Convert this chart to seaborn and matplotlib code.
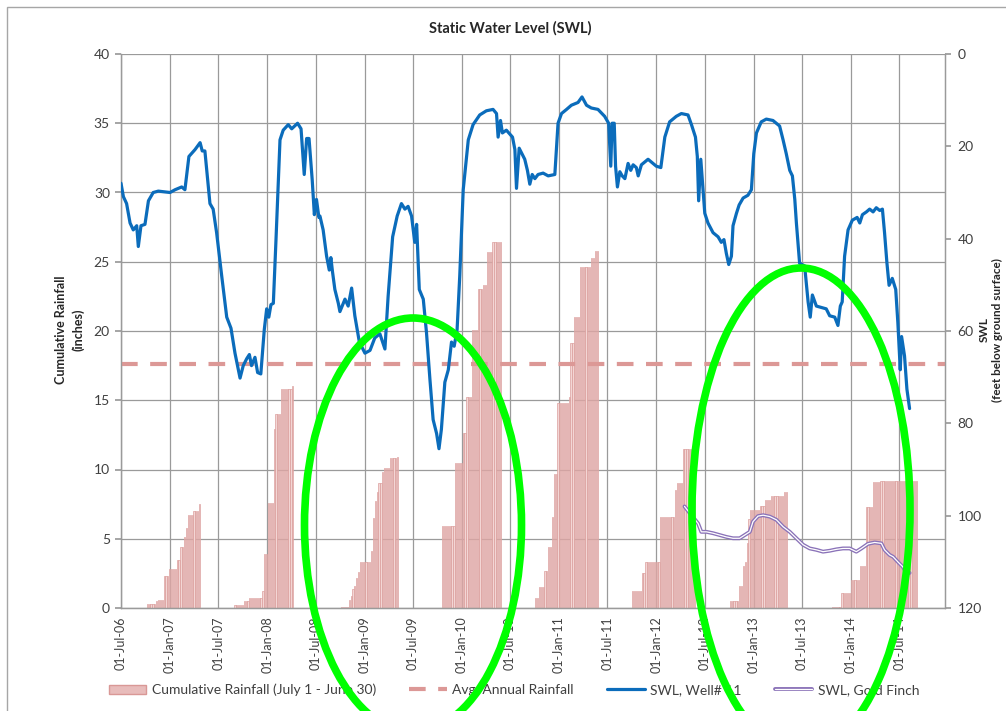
import matplotlib
matplotlib.use("Agg")
import matplotlib.pyplot as plt
import matplotlib.dates as mdates
import matplotlib.patheffects as pe
from matplotlib.patches import Ellipse, Rectangle, Patch
from matplotlib.lines import Line2D
import seaborn as sns
import pandas as pd
import numpy as np

# ---------------------------------------------------------------- data
# weekly cumulative rainfall (inches), one list per water year (Jul 1 - Jun 30)
rain_start = ['2006-10-08', '2007-09-02', '2008-10-07', '2009-10-21',
              '2010-10-05', '2011-10-05', '2012-10-05', '2013-10-24']
rain_vals = [
    [0.3, 0.3, 0.3, 0.3, 0.3, 0.5, 0.6, 0.6, 0.6, 2.3, 2.3, 2.3, 2.8, 2.8, 2.8, 2.8,
     3.5, 3.5, 4.4, 4.4, 5.1, 5.8, 6.7, 6.7, 6.7, 7.0, 7.0, 7.0, 7.5],
    [0.25, 0.25, 0.25, 0.25, 0.25, 0.5, 0.5, 0.5, 0.7, 0.7, 0.7, 0.7, 0.7, 0.7, 0.7,
     1.2, 3.9, 3.9, 7.6, 7.6, 7.6, 12.9, 14.0, 14.0, 14.0, 15.8, 15.8, 15.8, 15.8,
     15.8, 15.8, 16.0],
    [0.05, 0.05, 0.05, 0.05, 0.6, 0.85, 1.4, 1.6, 2.2, 2.6, 3.3, 3.3, 3.3, 3.3, 3.3,
     3.3, 4.1, 6.5, 7.7, 8.4, 9.0, 9.0, 9.8, 10.1, 10.1, 10.1, 10.8, 10.8, 10.8,
     10.8, 10.9],
    [5.9, 5.9, 5.9, 5.9, 5.9, 5.9, 5.9, 10.5, 10.5, 10.5, 10.5, 12.6, 12.6, 15.2,
     15.2, 15.2, 20.1, 20.1, 20.1, 23.0, 23.0, 23.0, 23.3, 23.3, 25.7, 25.7, 25.7,
     26.4, 26.4, 26.4, 26.4, 26.4],
    [0.7, 0.7, 1.5, 1.5, 1.5, 2.7, 2.7, 4.4, 4.4, 6.6, 9.7, 9.7, 14.8, 14.8, 14.8,
     14.8, 14.8, 14.8, 15.2, 19.1, 19.1, 21.0, 21.0, 21.0, 24.6, 24.6, 24.6, 24.6,
     24.6, 24.6, 25.3, 25.3, 25.8, 25.8],
    [1.2, 1.2, 1.2, 1.2, 1.2, 2.5, 2.5, 3.3, 3.3, 3.3, 3.3, 3.3, 3.3, 3.3, 3.3, 6.6,
     6.6, 6.6, 6.6, 6.6, 6.6, 6.6, 6.6, 8.5, 9.0, 9.0, 9.0, 11.5, 11.5, 11.5, 11.5,
     11.5, 11.5, 11.5],
    [0.5, 0.5, 0.5, 0.5, 0.5, 1.6, 1.6, 3.0, 3.3, 4.7, 6.4, 7.1, 7.1, 7.1, 7.1, 7.1,
     7.4, 7.4, 7.4, 7.8, 7.8, 7.8, 8.1, 8.1, 8.1, 8.1, 8.1, 8.1, 8.1, 8.4, 8.4],
    [0.1, 0.1, 0.1, 0.1, 0.1, 1.1, 1.1, 1.1, 1.1, 1.1, 2.0, 2.0, 2.0, 2.0, 2.0, 3.0,
     3.0, 3.0, 7.3, 7.3, 7.3, 7.3, 9.1, 9.1, 9.1, 9.1, 9.2, 9.2, 9.2, 9.2, 9.2, 9.2,
     9.2, 9.2, 9.2, 9.2, 9.2, 9.2, 9.2, 9.2, 9.2, 9.2, 9.2, 9.2, 9.2, 9.2],
]
avg_annual_rain = 17.6

# SWL, Well# 11 (feet below ground surface)
well_dates = [
    '2006-07-01', '2006-07-10', '2006-07-22', '2006-08-04', '2006-08-16', '2006-08-29',
    '2006-09-04', '2006-09-14', '2006-09-29', '2006-10-12', '2006-10-30', '2006-11-18',
    '2007-01-01', '2007-01-20', '2007-02-14', '2007-02-26', '2007-03-13', '2007-04-05',
    '2007-04-24', '2007-05-02', '2007-05-12', '2007-05-31', '2007-06-12', '2007-06-25',
    '2007-07-14', '2007-08-02', '2007-08-18', '2007-09-02', '2007-09-21', '2007-10-03',
    '2007-10-16', '2007-10-26', '2007-11-03', '2007-11-16', '2007-11-26', '2007-12-08',
    '2007-12-21', '2007-12-30', '2008-01-07', '2008-01-15', '2008-01-24', '2008-02-03',
    '2008-02-18', '2008-03-01', '2008-03-20', '2008-04-02', '2008-04-24', '2008-05-07',
    '2008-05-19', '2008-05-28', '2008-06-06', '2008-06-18', '2008-06-26', '2008-07-04',
    '2008-07-13', '2008-07-17', '2008-07-29', '2008-08-11', '2008-08-21', '2008-08-27',
    '2008-09-02', '2008-09-11', '2008-09-24', '2008-09-30', '2008-10-19', '2008-10-31',
    '2008-11-13', '2008-11-25', '2008-12-12', '2009-01-02', '2009-01-21', '2009-02-08',
    '2009-02-27', '2009-03-18', '2009-03-30', '2009-04-16', '2009-05-03', '2009-05-19',
    '2009-06-01', '2009-06-13', '2009-06-26', '2009-07-08', '2009-07-15', '2009-07-25',
    '2009-08-09', '2009-08-21', '2009-09-03', '2009-09-15', '2009-09-28', '2009-10-07',
    '2009-10-16', '2009-10-29', '2009-11-11', '2009-11-23', '2009-12-03', '2009-12-14',
    '2009-12-24', '2010-01-06', '2010-01-25', '2010-02-12', '2010-03-09', '2010-04-03',
    '2010-04-28', '2010-05-11', '2010-05-17', '2010-05-26', '2010-06-02', '2010-06-17',
    '2010-07-10', '2010-07-19', '2010-07-25', '2010-08-04', '2010-08-25', '2010-09-04',
    '2010-09-13', '2010-09-22', '2010-10-02', '2010-10-14', '2010-11-02', '2010-11-21',
    '2010-12-16', '2010-12-28', '2011-01-10', '2011-01-29', '2011-02-16', '2011-03-01',
    '2011-03-13', '2011-03-28', '2011-04-14', '2011-05-02', '2011-05-27', '2011-06-21',
    '2011-07-06', '2011-07-14', '2011-07-19', '2011-07-27', '2011-08-01', '2011-08-08',
    '2011-08-17', '2011-08-26', '2011-09-05', '2011-09-17', '2011-09-27', '2011-10-06',
    '2011-10-18', '2011-10-25', '2011-11-06', '2011-12-01', '2012-01-01', '2012-01-18',
    '2012-02-02', '2012-02-20', '2012-03-16', '2012-04-04', '2012-04-29', '2012-05-12',
    '2012-05-27', '2012-06-03', '2012-06-08', '2012-06-16', '2012-07-01', '2012-07-13',
    '2012-08-01', '2012-08-20', '2012-09-01', '2012-09-11', '2012-09-20', '2012-09-29',
    '2012-10-09', '2012-10-15', '2012-10-28', '2012-11-07', '2012-11-22', '2012-12-10',
    '2012-12-23', '2013-01-01', '2013-01-11', '2013-01-29', '2013-02-17', '2013-03-14',
    '2013-04-08', '2013-04-21', '2013-05-03', '2013-05-16', '2013-05-26', '2013-06-04',
    '2013-06-10', '2013-06-22', '2013-07-11', '2013-07-24', '2013-08-01', '2013-08-09',
    '2013-08-24', '2013-09-12', '2013-09-30', '2013-10-13', '2013-11-01', '2013-11-13',
    '2013-11-22', '2013-11-29', '2013-12-08', '2013-12-21', '2014-01-06', '2014-01-24',
    '2014-02-03', '2014-02-13', '2014-02-28', '2014-03-12', '2014-03-25', '2014-04-06',
    '2014-04-19', '2014-04-29', '2014-05-07', '2014-05-16', '2014-05-24', '2014-06-05',
    '2014-06-18', '2014-06-26', '2014-07-05', '2014-07-10', '2014-07-21', '2014-07-30',
    '2014-08-09',
]
well_swl = [
    28.0, 30.9, 32.4, 36.6, 38.1, 37.2, 41.7, 37.2, 36.9, 31.8, 30.0, 29.7,
    30.0, 29.4, 28.8, 29.4, 22.2, 20.7, 19.2, 21.0, 21.0, 32.4, 33.6, 38.7,
    48.0, 57.0, 59.4, 64.8, 70.2, 67.5, 66.0, 65.1, 67.5, 65.7, 69.0, 69.3,
    59.7, 55.2, 57.0, 54.3, 54.0, 40.2, 18.6, 16.5, 15.3, 16.2, 15.0, 16.2,
    26.1, 18.3, 18.3, 27.3, 34.8, 31.5, 35.4, 35.1, 38.1, 43.8, 46.8, 44.1,
    47.1, 51.0, 54.0, 55.8, 53.1, 54.6, 50.7, 56.7, 62.4, 64.8, 64.2, 61.5,
    60.6, 63.9, 52.5, 39.6, 35.1, 32.4, 33.6, 33.0, 35.1, 40.8, 36.9, 51.0,
    53.1, 60.3, 70.5, 79.2, 82.2, 85.5, 81.3, 71.1, 68.4, 62.4, 63.3, 59.7,
    48.0, 29.4, 18.6, 15.3, 13.2, 12.3, 12.0, 12.9, 18.0, 14.4, 17.1, 16.5,
    18.0, 20.7, 29.1, 20.4, 22.8, 25.2, 28.2, 26.1, 27.0, 26.1, 25.8, 26.4,
    26.1, 15.0, 12.9, 12.0, 11.1, 10.8, 10.5, 9.3, 11.1, 11.7, 12.0, 13.5,
    15.0, 24.3, 15.0, 15.0, 24.3, 28.8, 25.5, 26.4, 27.0, 23.7, 25.2, 24.0,
    24.6, 26.4, 24.0, 22.8, 24.3, 24.6, 18.0, 14.7, 13.5, 12.9, 13.2, 15.3,
    18.0, 22.2, 31.8, 22.8, 34.5, 36.6, 38.7, 39.6, 40.8, 40.2, 43.2, 45.6,
    43.8, 37.2, 34.5, 32.7, 31.2, 30.6, 29.4, 21.6, 17.1, 14.7, 14.1, 14.4,
    15.6, 18.6, 21.6, 25.2, 26.4, 31.5, 36.6, 45.3, 45.9, 53.7, 57.0, 52.2,
    54.6, 54.9, 55.2, 56.7, 57.0, 58.8, 54.6, 53.7, 43.8, 38.1, 36.0, 35.4,
    36.6, 34.8, 34.2, 33.6, 34.2, 33.3, 33.9, 33.6, 38.7, 45.3, 50.1, 48.6,
    51.0, 58.2, 68.4, 61.2, 65.4, 72.6, 76.8,
]

# SWL, Gold Finch (feet below ground surface)
finch_dates = [
    '2012-04-16', '2012-05-12', '2012-06-06', '2012-06-18', '2012-07-07', '2012-08-01',
    '2012-08-26', '2012-09-20', '2012-10-15', '2012-11-09', '2012-11-28', '2012-12-17',
    '2012-12-29', '2013-01-17', '2013-02-05', '2013-03-02', '2013-03-27', '2013-04-21',
    '2013-05-16', '2013-06-10', '2013-07-05', '2013-07-30', '2013-08-24', '2013-09-18',
    '2013-10-13', '2013-11-07', '2013-12-02', '2013-12-27', '2014-01-21', '2014-02-09',
    '2014-03-06', '2014-03-31', '2014-04-25', '2014-05-07', '2014-05-26', '2014-06-08',
    '2014-06-26', '2014-07-15', '2014-07-25', '2014-08-09',
]
finch_swl = [
    98.0, 99.9, 101.7, 103.5, 103.5, 103.8, 104.2, 104.6, 104.9, 104.9, 104.2, 103.5,
    101.3, 100.1, 99.9, 100.2, 100.9, 102.4, 103.5, 104.9, 106.3, 107.1, 107.4, 107.8,
    107.6, 107.3, 107.1, 107.1, 107.8, 107.1, 106.1, 105.8, 106.0, 107.4, 108.5, 108.9,
    110.0, 111.1, 112.1, 112.4,
]

x_start, x_end = '2006-07-01', '2014-12-20'

# ---------------------------------------------------------------- style
sns.set_theme(style='white')
plt.rcParams['font.family'] = ['Lato', 'DejaVu Sans']

bar_face = '#f3d6d5'
bar_edge = '#d99896'
blue = '#0b6cbb'
purple = '#8a72b8'
grid_c = '#9a9a9a'
text_c = '#404040'

rain = pd.concat([
    pd.DataFrame({'date': pd.date_range(s, periods=len(v), freq='7D'), 'rain': v})
    for s, v in zip(rain_start, rain_vals)
], ignore_index=True)
well = pd.DataFrame({'date': pd.to_datetime(well_dates), 'swl': well_swl})
finch = pd.DataFrame({'date': pd.to_datetime(finch_dates), 'swl': finch_swl})

fig = plt.figure(figsize=(10.06, 7.11), dpi=100)
ax = fig.add_axes([121 / 1006, 1 - 608 / 711, 824 / 1006, 554 / 711])
ax2 = ax.twinx()

ax.bar(rain['date'], rain['rain'], width=4.5, color=bar_face, edgecolor=bar_edge,
       linewidth=0.45, zorder=2)
ax.axhline(avg_annual_rain, color='#dc9896', lw=3, ls=(0, (4, 3)), zorder=3)

sns.lineplot(data=well, x='date', y='swl', ax=ax2, color=blue, lw=2.3, zorder=5)
sns.lineplot(data=finch, x='date', y='swl', ax=ax2, color='white', lw=0.9, zorder=4,
             path_effects=[pe.Stroke(linewidth=2.8, foreground=purple), pe.Normal()])

ax.set_ylim(0, 40)
ax.set_yticks(np.arange(0, 41, 5))
ax2.set_ylim(120, 0)
ax2.set_yticks(np.arange(0, 121, 20))
ax.set_xlim(pd.Timestamp(x_start), pd.Timestamp(x_end))

ticks = pd.date_range('2006-07-01', '2014-07-01', freq='6MS')
ax.set_xticks(ticks)
ax.xaxis.set_major_formatter(mdates.DateFormatter('%d-%b-%y'))
ax.tick_params(axis='x', rotation=90, labelsize=9, colors=text_c, length=0, pad=6)
ax.tick_params(axis='y', labelsize=10, colors=text_c, length=4, color=grid_c, pad=4)
ax2.tick_params(axis='y', labelsize=10, colors=text_c, length=4, color=grid_c, pad=5)
ax.set_xlabel('')
ax.set_ylabel('')
ax2.set_xlabel('')
ax2.set_ylabel('')

ax.grid(True, color=grid_c, lw=0.9)
ax.set_axisbelow(True)
for a in (ax, ax2):
    for side in ['left', 'right', 'bottom']:
        a.spines[side].set_color(grid_c)
        a.spines[side].set_linewidth(0.9)
    a.spines['top'].set_visible(False)

fig.text(510 / 1006, 1 - 28 / 711, 'Static Water Level (SWL)', ha='center',
         va='center', fontsize=10.5, fontweight='bold', color='#262626')
fig.text(70 / 1006, 1 - 330 / 711, 'Cumulative Rainfall\n(inches)', rotation=90,
         ha='center', va='center', fontsize=9, fontweight='bold', color='#262626',
         linespacing=1.5)
fig.text(991 / 1006, 1 - 330 / 711, 'SWL\n(feet below ground surface)', rotation=90,
         ha='center', va='center', fontsize=8.5, fontweight='bold', color='#262626',
         linespacing=1.25)

handles = [
    Patch(facecolor='#e8bcbb', edgecolor=bar_edge),
    Line2D([], [], color='#dc9896', lw=3, ls=(0, (4, 3))),
    Line2D([], [], color=blue, lw=2.3),
    Line2D([], [], color='white', lw=0.9,
           path_effects=[pe.Stroke(linewidth=2.8, foreground=purple), pe.Normal()]),
]
labels = ['Cumulative Rainfall (July 1 - June 30)', 'Avg. Annual Rainfall',
          'SWL, Well# 11', 'SWL, Gold Finch']
fig.legend(handles, labels, loc='center', bbox_to_anchor=(0.511, 1 - 690 / 711),
           ncol=4, frameon=False, fontsize=10, handlelength=2.7, columnspacing=2.4,
           labelcolor=text_c, handletextpad=0.4)

# green hand-drawn highlight ellipses
for cx, cy, w, h in [(413, 525, 217, 414), (801, 510, 218, 484)]:
    fig.add_artist(Ellipse((cx / 1006, 1 - cy / 711), w / 1006, h / 711,
                           transform=fig.transFigure, fill=False,
                           edgecolor='#00ff00', lw=5.5, zorder=20))

fig.add_artist(Rectangle((7 / 1006, -0.05), 1.2, 1 - 7 / 711 + 0.05, fill=False,
                         edgecolor='#a6a6a6', lw=1, transform=fig.transFigure))

fig.savefig('out.png', dpi=100)
